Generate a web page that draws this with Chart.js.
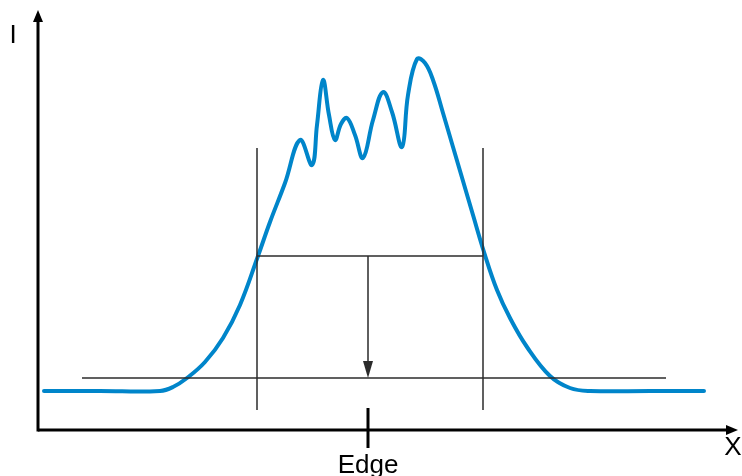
<!DOCTYPE html>
<html>
<head>
<meta charset="utf-8">
<script src="https://cdn.jsdelivr.net/npm/chart.js@4/dist/chart.umd.min.js"></script>
<style>
  html, body { margin: 0; padding: 0; background: #fff; }
  #wrap { width: 742px; height: 476px; position: relative; }
</style>
</head>
<body>
<div id="wrap"><canvas id="edgeChart"></canvas></div>
<script>
  // intensity profile across the edge (x = position, y = intensity)
  const profileX = [6, 62, 122, 135, 149, 167, 185, 202, 220, 232, 247, 262, 274, 279, 285, 291, 297, 303, 309,
    317, 325, 335, 345, 354, 364, 370, 379, 387, 395, 405, 415, 425, 435, 446, 459, 472, 489, 512, 532,
    552, 612, 666];
  const profileY = [39, 39, 39, 43, 52, 68, 92, 125, 174, 208, 247, 290, 265, 305, 350, 315, 290, 306, 312,
    295, 272, 310, 338, 318, 283, 335, 371, 367, 350, 317, 283, 249, 215, 178, 140, 112, 83, 54, 42,
    39, 39, 39];

  // construction lines
  const edgeLeft = 219;
  const edgeRight = 445;
  const levelHalf = 174;   // level where the profile crosses the edge markers
  const levelBase = 52;    // threshold level
  const baseStart = 44;
  const baseEnd = 628;
  const markerTop = 282;
  const markerBottom = 20;
  const edgePos = 330;

  // axes
  const axisXEnd = 700;
  const axisYEnd = 420;
  const labels = ["I", "X", "Edge"];

  const ink = "#2b2b2b";
  const line = (pts, color, width) => ({
    type: "line",
    data: pts,
    borderColor: color,
    borderWidth: width,
    pointRadius: 0,
    showLine: true,
    fill: false,
    tension: 0
  });

  const profile = profileX.map((x, i) => ({ x: x, y: profileY[i] }));

  const arrowHeads = {
    id: "arrowHeads",
    afterDatasetsDraw(chart) {
      const { ctx, scales } = chart;
      const sx = scales.x, sy = scales.y;
      function head(x, y, dir, len, half, color) {
        const px = sx.getPixelForValue(x), py = sy.getPixelForValue(y);
        ctx.save();
        ctx.fillStyle = color;
        ctx.beginPath();
        if (dir === "up") {
          ctx.moveTo(px, py);
          ctx.lineTo(px - half, py + len);
          ctx.lineTo(px + half, py + len);
        } else if (dir === "down") {
          ctx.moveTo(px, py);
          ctx.lineTo(px - half, py - len);
          ctx.lineTo(px + half, py - len);
        } else {
          ctx.moveTo(px, py);
          ctx.lineTo(px - len, py - half);
          ctx.lineTo(px - len, py + half);
        }
        ctx.closePath();
        ctx.fill();
        ctx.restore();
      }
      head(0, axisYEnd, "up", 12, 5, "#000");
      head(axisXEnd, 0, "right", 12, 5, "#000");
      head(edgePos, levelBase, "down", 17, 5, ink);

      // labels
      ctx.save();
      ctx.fillStyle = "#000";
      ctx.font = "26px 'Liberation Sans', Arial, sans-serif";
      ctx.textAlign = "center";
      ctx.textBaseline = "alphabetic";
      ctx.fillText(labels[0], sx.getPixelForValue(-25), sy.getPixelForValue(387));
      ctx.fillText(labels[1], sx.getPixelForValue(695), sy.getPixelForValue(-25));
      ctx.fillText(labels[2], sx.getPixelForValue(edgePos), sy.getPixelForValue(-43));
      ctx.restore();
    }
  };

  new Chart(document.getElementById("edgeChart"), {
    type: "scatter",
    data: {
      datasets: [
        line([{ x: edgeLeft, y: markerBottom }, { x: edgeLeft, y: markerTop }], ink, 1.5),
        line([{ x: edgeRight, y: markerBottom }, { x: edgeRight, y: markerTop }], ink, 1.5),
        line([{ x: edgeLeft, y: levelHalf }, { x: edgeRight, y: levelHalf }], ink, 1.5),
        line([{ x: baseStart, y: levelBase }, { x: baseEnd, y: levelBase }], ink, 1.5),
        line([{ x: edgePos, y: levelHalf }, { x: edgePos, y: levelBase + 10 }], ink, 1.5),
        line([{ x: edgePos, y: 22 }, { x: edgePos, y: -18 }], "#000", 3),
        line([{ x: 0, y: 0 }, { x: axisXEnd - 8, y: 0 }], "#000", 3),
        line([{ x: 0, y: -1.5 }, { x: 0, y: axisYEnd - 8 }], "#000", 3),
        Object.assign(line(profile, "#0085CA", 4), { tension: 0.4, borderJoinStyle: "round", borderCapStyle: "round" })
      ]
    },
    options: {
      responsive: true,
      maintainAspectRatio: false,
      animation: false,
      layout: { padding: 0 },
      scales: {
        x: { type: "linear", min: -38, max: 704, display: false },
        y: { type: "linear", min: -46, max: 430, display: false }
      },
      plugins: {
        legend: { display: false },
        tooltip: { enabled: false }
      }
    },
    plugins: [arrowHeads]
  });
</script>
</body>
</html>
